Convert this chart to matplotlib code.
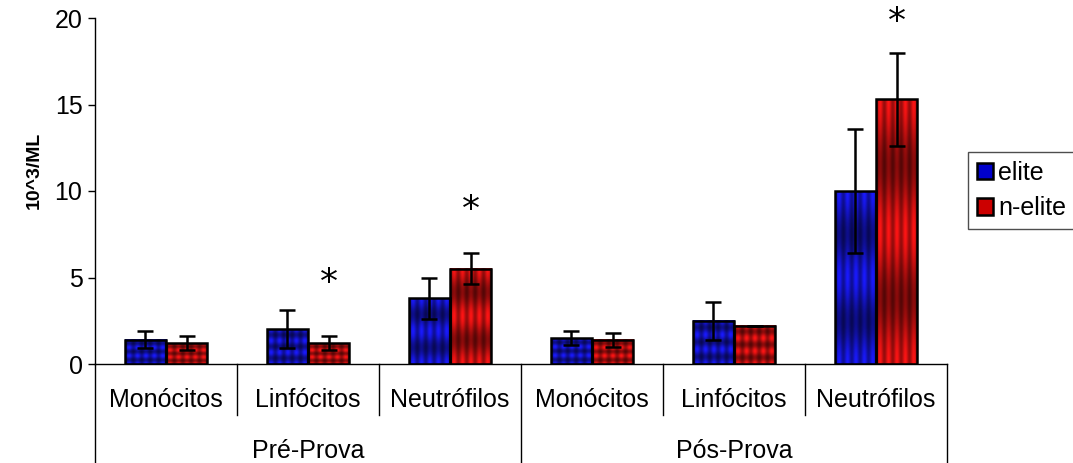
import numpy as np
import matplotlib.pyplot as plt
from matplotlib.patches import Rectangle
from matplotlib.transforms import blended_transform_factory, ScaledTranslation

plt.rcParams['font.family'] = ['Liberation Sans', 'DejaVu Sans']

categories = ["Monócitos", "Linfócitos", "Neutrófilos", "Monócitos", "Linfócitos", "Neutrófilos"]
groups = ["Pré-Prova", "Pós-Prova"]
elite = [1.4, 2.0, 3.8, 1.5, 2.5, 10.0]
elite_err = [0.5, 1.1, 1.2, 0.4, 1.1, 3.6]
nelite = [1.2, 1.2, 5.5, 1.4, 2.2, 15.3]
nelite_err = [0.4, 0.4, 0.9, 0.4, 0.0, 2.7]
# asterisks (category index, centre of the sign)
star_cat = [1, 2, 5]
star_y = [5.1, 9.3, 20.2]


def texture(base, h):
    # Excel-like stretched texture: vertical stripes and horizontal bands
    nx, ny = 60, 240
    u = (np.arange(nx) + 0.5) / nx
    v = (np.arange(ny) + 0.5) / ny
    sx = 0.5 - 0.5 * np.cos(2 * np.pi * 5 * u)
    n = 3 if h < 2.6 else 2
    sy = 0.5 + 0.5 * np.cos(2 * np.pi * n * v)
    t = np.outer(0.55 + 0.45 * sy, 0.6 + 0.4 * sx)
    img = t[:, :, None] * np.array(base)[None, None, :]
    return img[::-1]


fig = plt.figure(figsize=(10.73, 4.63), dpi=100)
ax = fig.add_axes([95 / 1073, 99 / 463, 852 / 1073, 346 / 463])

x = np.arange(len(categories))
w = 0.29
series = [(elite, elite_err, -w / 2, (0.1, 0.1, 1.0), (0.0, 0.0, 0.8), "elite"),
          (nelite, nelite_err, w / 2, (1.0, 0.08, 0.08), (0.8, 0.0, 0.0), "n-elite")]

handles = []
for vals, errs, off, base, hcol, name in series:
    for xi, v in zip(x, vals):
        x0 = xi + off - w / 2
        ax.imshow(texture(base, v), extent=(x0, x0 + w, 0, v), aspect='auto',
                  interpolation='bilinear', zorder=2)
    ax.bar(x + off, vals, w, facecolor='none', edgecolor='black', linewidth=1.8, zorder=3)
    ax.errorbar(x + off, vals, yerr=errs, fmt='none', ecolor='black', elinewidth=1.8,
                capsize=6, capthick=1.8, zorder=4)
    handles.append(Rectangle((0, 0), 1, 1, facecolor=hcol, edgecolor='black', linewidth=1.8))

fs_star = 26
shift = ScaledTranslation(0, -0.47 * fs_star / 72, fig.dpi_scale_trans)
for c, y in zip(star_cat, star_y):
    ax.text(c + w / 2, y, "*", ha='center', va='baseline', fontsize=fs_star,
            family='DejaVu Sans', transform=ax.transData + shift, zorder=5, clip_on=False)

ax.set_xlim(-0.5, len(categories) - 0.5)
ax.set_ylim(0, 20)
ax.set_yticks([0, 5, 10, 15, 20])
ax.tick_params(axis='y', direction='out', length=5, width=1, labelsize=18, pad=4)
ax.set_xticks([])
for s in ['top', 'right']:
    ax.spines[s].set_visible(False)
ax.spines['left'].set_linewidth(1)
ax.spines['bottom'].set_linewidth(1)

ax.set_ylabel("10^3/ML", fontsize=14, fontweight='bold')
ax.yaxis.set_label_coords(-0.061, 0.56)

# multi-level category axis
tr = blended_transform_factory(ax.transData, ax.transAxes)
for i, c in enumerate(categories):
    ax.text(i, -0.105, c, transform=tr, ha='center', va='center', fontsize=18)
for gi, g in enumerate(groups):
    ax.text(gi * 3 + 1, -0.25, g, transform=tr, ha='center', va='center', fontsize=18)
for b in [0.5, 1.5, 3.5, 4.5]:
    ax.plot([b, b], [0, -0.148], transform=tr, color='black', lw=1, clip_on=False)
for b in [-0.5, 2.5, 5.5]:
    ax.plot([b, b], [0, -0.3], transform=tr, color='black', lw=1, clip_on=False)

leg = fig.legend(handles, ["elite", "n-elite"], loc='upper left',
                 bbox_to_anchor=(968 / 1073, 1 - 152 / 463), fontsize=18,
                 frameon=True, fancybox=False, handlelength=0.65, handleheight=0.65,
                 handletextpad=0.2, borderpad=0.35, labelspacing=0.45, borderaxespad=0)
leg.get_frame().set_edgecolor('#222222')
leg.get_frame().set_linewidth(1)

fig.savefig("out.png", dpi=100)
